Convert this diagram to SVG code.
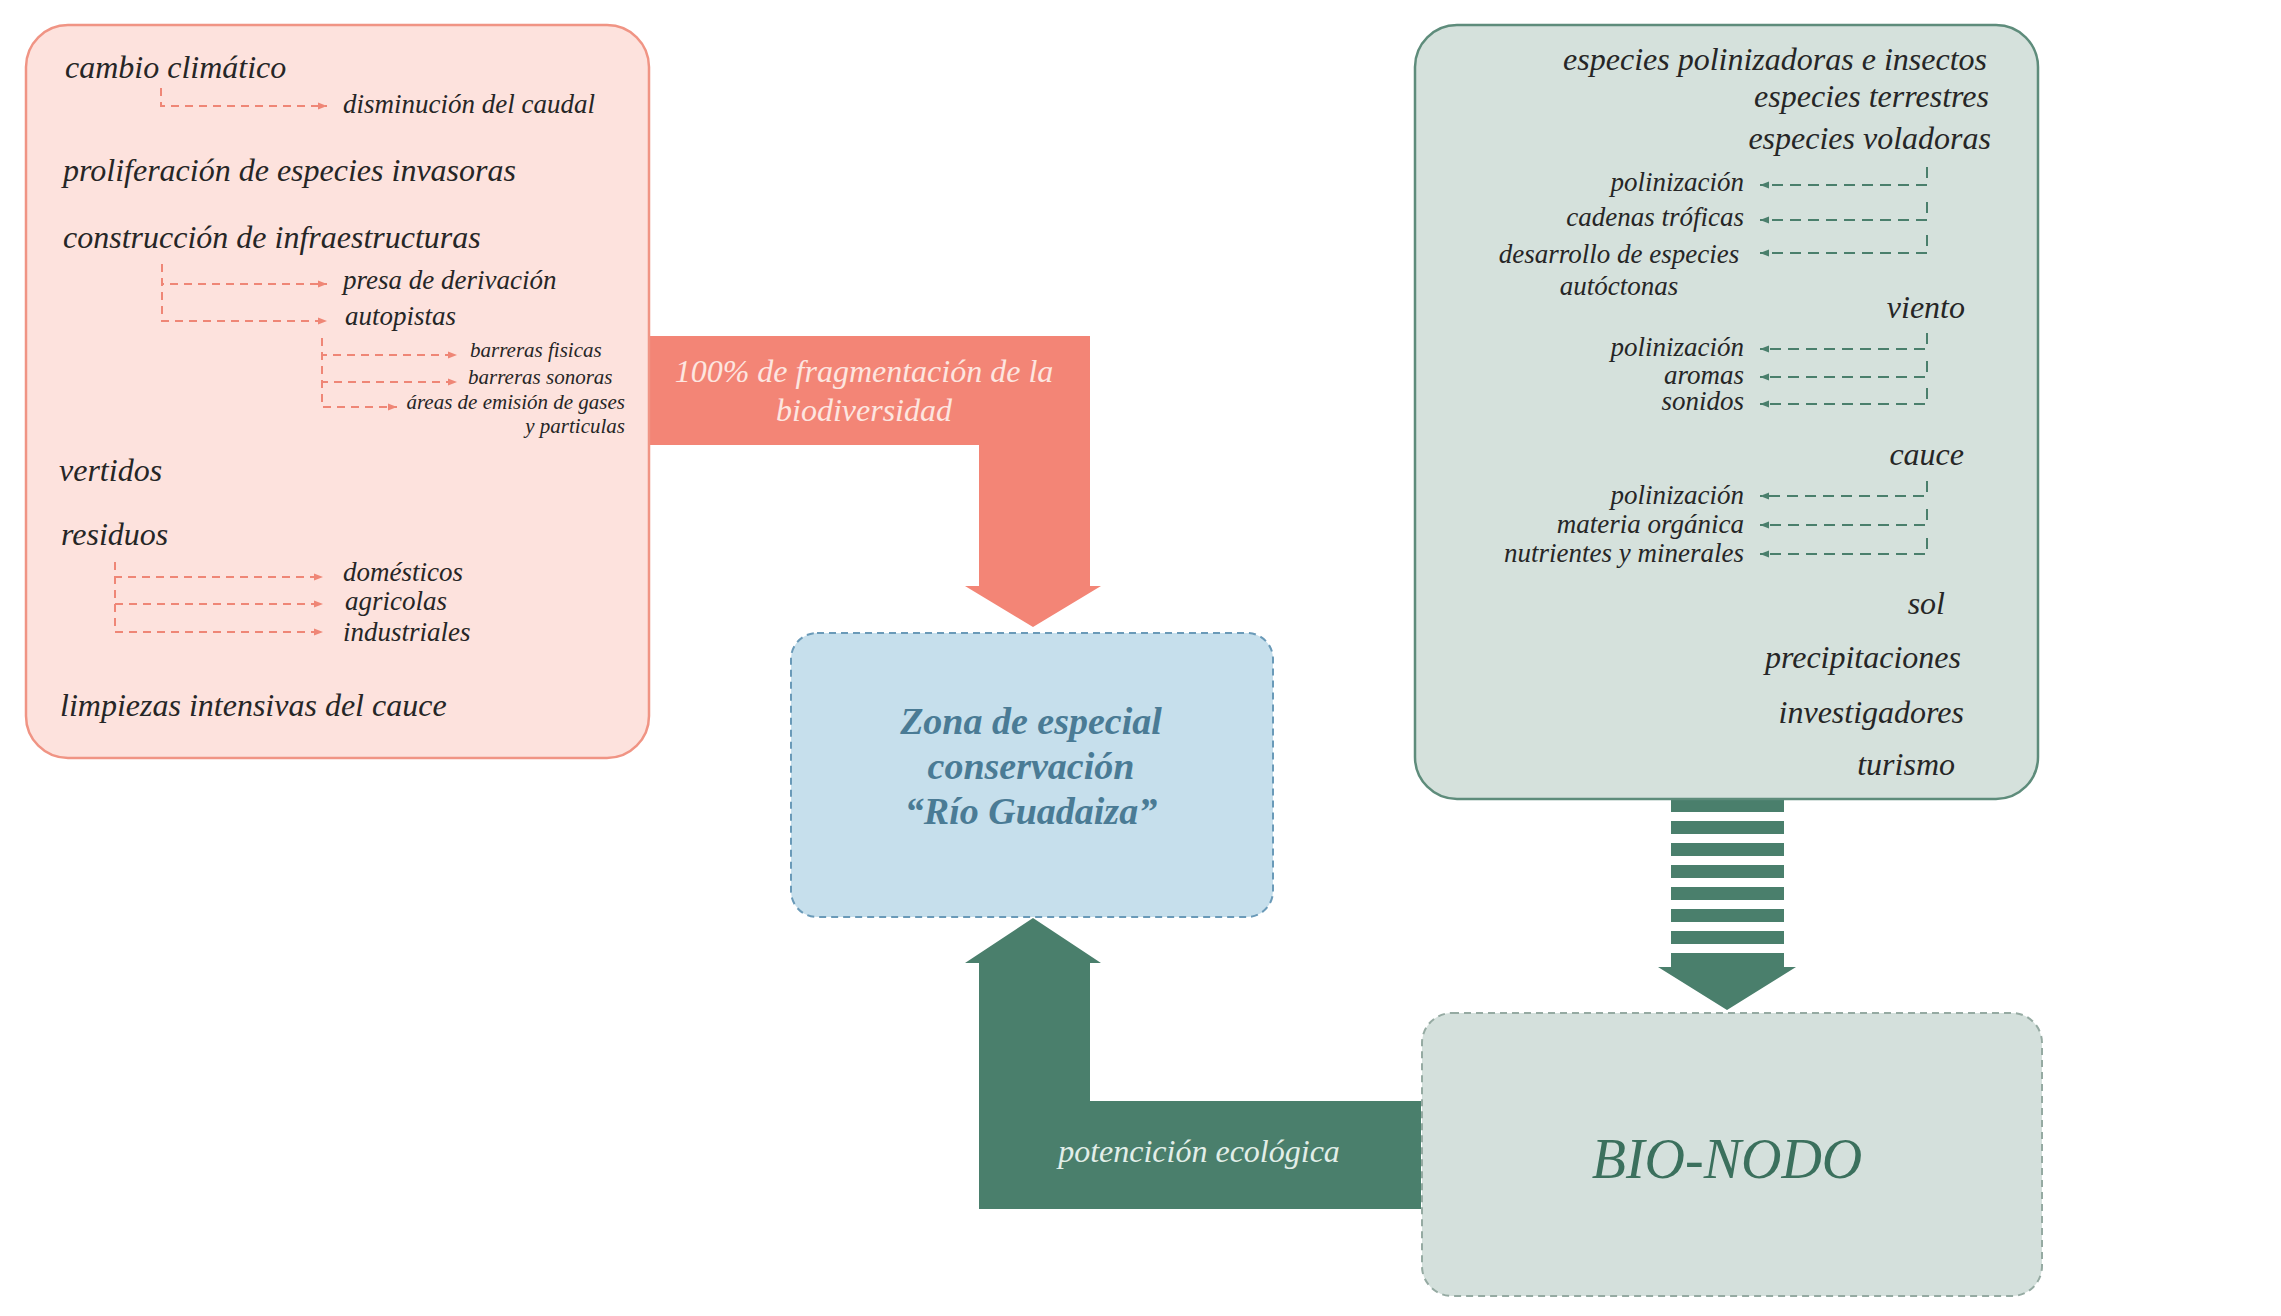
<svg xmlns="http://www.w3.org/2000/svg" width="2281" height="1316" viewBox="0 0 2281 1316">
<defs>
<style>
.t{font-family:"Liberation Serif","Times New Roman",serif;font-style:italic;fill:#262626}
.l{font-size:32px}
.s{font-size:27px}
.xs{font-size:21px}
.r{text-anchor:end}
.m{text-anchor:middle}
.pc{fill:none;stroke:#ef8676;stroke-width:2;stroke-dasharray:8 6}
.gc{fill:none;stroke:#4a7f6c;stroke-width:2;stroke-dasharray:11 7}
</style>
<marker id="ap" viewBox="0 0 10 10" refX="10" refY="5" markerWidth="10" markerHeight="9" markerUnits="userSpaceOnUse" orient="auto"><path d="M0,1 L10,5 L0,9 z" fill="#ef8676"/></marker>
<marker id="ag" viewBox="0 0 10 10" refX="10" refY="5" markerWidth="10" markerHeight="9" markerUnits="userSpaceOnUse" orient="auto"><path d="M0,1 L10,5 L0,9 z" fill="#4a7f6c"/></marker>
</defs>
<rect width="2281" height="1316" fill="#ffffff"/>

<g id="connectors">
  <g id="fragmentacion">
    <path d="M649,336 H1090 V586 H1101 L1033,627 L965,586 H979 V445 H649 Z" fill="#f38576"/>
    <text class="t l m" x="864" y="382" fill="#fde6e0" style="fill:#fde6e0">100% de fragmentación de la</text>
    <text class="t l m" x="864" y="421" style="fill:#fde6e0">biodiversidad</text>
  </g>
  <g id="potenciacion">
    <path d="M1421,1101 H1090 V963 H1101 L1033,918 L965,963 H979 V1209 H1421 Z" fill="#4a7f6c"/>
    <text class="t l m" x="1199" y="1162" style="fill:#e2eee8">potencición ecológica</text>
  </g>
  <g id="aporte" fill="#4a7f6c">
    <rect x="1671" y="799" width="113" height="13"/>
    <rect x="1671" y="821" width="113" height="13"/>
    <rect x="1671" y="843" width="113" height="13"/>
    <rect x="1671" y="865" width="113" height="13"/>
    <rect x="1671" y="887" width="113" height="13"/>
    <rect x="1671" y="909" width="113" height="13"/>
    <rect x="1671" y="931" width="113" height="13"/>
    <path d="M1671,953 H1784 V967 H1796 L1727,1010 L1658,967 H1671 Z"/>
  </g>
</g>

<g id="amenazas">
  <rect x="26" y="25" width="623" height="733" rx="42" fill="#fde2dd" stroke="#f09484" stroke-width="2.5"/>
  <g id="amenazas-conectores">
    <path class="pc" d="M161,88 V106 H327" marker-end="url(#ap)"/>
    <path class="pc" d="M162,264 V284 H327" marker-end="url(#ap)"/>
    <path class="pc" d="M162,264 V321 H327" marker-end="url(#ap)"/>
    <path class="pc" d="M322,338 V355 H457" marker-end="url(#ap)"/>
    <path class="pc" d="M322,338 V382 H457" marker-end="url(#ap)"/>
    <path class="pc" d="M322,338 V407 H397" marker-end="url(#ap)"/>
    <path class="pc" d="M115,562 V577 H323" marker-end="url(#ap)"/>
    <path class="pc" d="M115,562 V604 H323" marker-end="url(#ap)"/>
    <path class="pc" d="M115,562 V632 H323" marker-end="url(#ap)"/>
  </g>
  <text class="t l" x="65" y="78">cambio climático</text>
  <text class="t s" x="343" y="113">disminución del caudal</text>
  <text class="t l" x="63" y="181">proliferación de especies invasoras</text>
  <text class="t l" x="63" y="248">construcción de infraestructuras</text>
  <text class="t s" x="343" y="289">presa de derivación</text>
  <text class="t s" x="345" y="325">autopistas</text>
  <text class="t xs" x="470" y="357">barreras fisicas</text>
  <text class="t xs" x="468" y="384">barreras sonoras</text>
  <text class="t xs r" x="625" y="409">áreas de emisión de gases</text>
  <text class="t xs r" x="625" y="433">y particulas</text>
  <text class="t l" x="59" y="481">vertidos</text>
  <text class="t l" x="61" y="545">residuos</text>
  <text class="t s" x="343" y="581">domésticos</text>
  <text class="t s" x="345" y="610">agricolas</text>
  <text class="t s" x="343" y="641">industriales</text>
  <text class="t l" x="60" y="716">limpiezas intensivas del cauce</text>
</g>

<g id="recursos">
  <rect x="1415" y="25" width="623" height="774" rx="42" fill="#d5e1dc" stroke="#5e8c7b" stroke-width="2.5"/>
  <g id="recursos-conectores">
    <path class="gc" d="M1927,167 V185 H1760" marker-end="url(#ag)"/>
    <path class="gc" d="M1927,202 V220 H1760" marker-end="url(#ag)"/>
    <path class="gc" d="M1927,235 V253 H1760" marker-end="url(#ag)"/>
    <path class="gc" d="M1927,333 V349 H1760" marker-end="url(#ag)"/>
    <path class="gc" d="M1927,361 V377 H1760" marker-end="url(#ag)"/>
    <path class="gc" d="M1927,388 V404 H1760" marker-end="url(#ag)"/>
    <path class="gc" d="M1927,481 V496 H1760" marker-end="url(#ag)"/>
    <path class="gc" d="M1927,509 V525 H1760" marker-end="url(#ag)"/>
    <path class="gc" d="M1927,538 V554 H1760" marker-end="url(#ag)"/>
  </g>
  <text class="t l r" x="1987" y="70">especies polinizadoras e insectos</text>
  <text class="t l r" x="1989" y="107">especies terrestres</text>
  <text class="t l r" x="1991" y="149">especies voladoras</text>
  <text class="t s r" x="1744" y="191">polinización</text>
  <text class="t s r" x="1744" y="226">cadenas tróficas</text>
  <text class="t s m" x="1619" y="263">desarrollo de especies</text>
  <text class="t s m" x="1619" y="295">autóctonas</text>
  <text class="t l r" x="1965" y="318">viento</text>
  <text class="t s r" x="1744" y="356">polinización</text>
  <text class="t s r" x="1744" y="384">aromas</text>
  <text class="t s r" x="1744" y="410">sonidos</text>
  <text class="t l r" x="1964" y="465">cauce</text>
  <text class="t s r" x="1744" y="504">polinización</text>
  <text class="t s r" x="1744" y="533">materia orgánica</text>
  <text class="t s r" x="1744" y="562">nutrientes y minerales</text>
  <text class="t l r" x="1945" y="614">sol</text>
  <text class="t l r" x="1961" y="668">precipitaciones</text>
  <text class="t l r" x="1964" y="723">investigadores</text>
  <text class="t l r" x="1955" y="775">turismo</text>
</g>

<g id="zec">
  <rect x="791" y="633" width="482" height="284" rx="26" fill="#c6dfec" stroke="#6a9ab8" stroke-width="2" stroke-dasharray="7 5"/>
  <text class="t m" x="1031" y="734" style="font-size:38px;font-weight:bold;fill:#4a7b95">Zona de especial</text>
  <text class="t m" x="1031" y="779" style="font-size:38px;font-weight:bold;fill:#4a7b95">conservación</text>
  <text class="t m" x="1031" y="824" style="font-size:38px;font-weight:bold;fill:#4a7b95">“Río Guadaiza”</text>
</g>

<g id="bionodo">
  <rect x="1422" y="1013" width="620" height="283" rx="30" fill="#d4e0dc" stroke="#95aaa2" stroke-width="2" stroke-dasharray="7 5"/>
  <text class="t m" x="1727" y="1178" style="font-size:56px;fill:#3b705d">BIO-NODO</text>
</g>
</svg>
